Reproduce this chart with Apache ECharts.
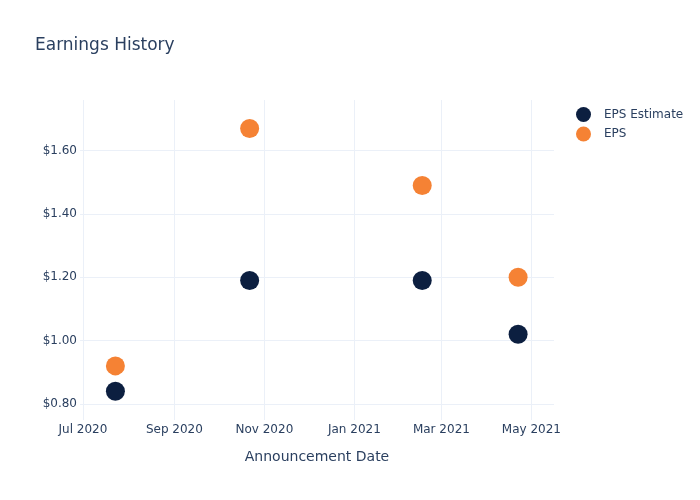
<!DOCTYPE html>
<html>
<head>
<meta charset="utf-8">
<script src="https://cdn.jsdelivr.net/npm/echarts@6/dist/echarts.min.js"></script>
<style>html,body{margin:0;padding:0;background:#fff}#c{width:700px;height:500px}</style>
</head>
<body>
<div id="c"></div>
<script>
// Data
var dates = ['2020-07-23', '2020-10-22', '2021-02-16', '2021-04-22'];
var epsEstimate = [0.84, 1.19, 1.19, 1.02];
var eps = [0.92, 1.67, 1.49, 1.20];
var seriesNames = ['EPS Estimate', 'EPS'];
var titleText = 'Earnings History';
var xAxisTitle = 'Announcement Date';

function toTime(s) {
  var p = s.split('-');
  return new Date(+p[0], +p[1] - 1, +p[2]).getTime();
}
var months = ['Jan','Feb','Mar','Apr','May','Jun','Jul','Aug','Sep','Oct','Nov','Dec'];
var font = 'DejaVu Sans, Open Sans, sans-serif';
var textColor = '#2a3f5f';
var gridColor = '#ebf0f8';

var chart = echarts.init(document.getElementById('c'), null, {renderer: 'canvas'});
chart.setOption({
  backgroundColor: '#fff',
  animation: false,
  textStyle: {fontFamily: font, color: textColor},
  title: {
    text: titleText,
    left: 35, top: 37, padding: 0,
    textStyle: {fontFamily: font, fontSize: 17, fontWeight: 'normal', color: textColor}
  },
  legend: {
    orient: 'vertical',
    left: 576, top: 107, padding: 0,
    itemWidth: 31, itemHeight: 15, itemGap: 4.5,
    icon: 'circle',
    textStyle: {fontFamily: font, fontSize: 12, color: textColor},
    data: seriesNames
  },
  grid: {left: 80, right: 146, top: 100, bottom: 80, containLabel: false},
  xAxis: {
    type: 'time',
    min: new Date(2020, 5, 29).getTime(),
    max: new Date(2021, 4, 16, 8).getTime(),
    splitNumber: 5,
    name: xAxisTitle,
    nameLocation: 'middle',
    nameGap: 30,
    nameTextStyle: {fontFamily: font, fontSize: 14, color: textColor},
    axisLine: {show: false},
    axisTick: {show: false},
    axisLabel: {
      margin: 4,
      fontFamily: font, fontSize: 12, color: textColor,
      showMinLabel: false, showMaxLabel: false,
      hideOverlap: false,
      formatter: function (v) {
        var d = new Date(v);
        if (d.getDate() !== 1 || d.getHours() !== 0) return '';
        return months[d.getMonth()] + ' ' + d.getFullYear();
      },
      rich: {}
    },
    splitLine: {show: true, showMinLine: false, showMaxLine: false, lineStyle: {color: gridColor, width: 1}}
  },
  yAxis: {
    type: 'value',
    min: 0.749,
    max: 1.760,
    splitNumber: 5,
    axisLine: {show: false},
    axisTick: {show: false},
    axisLabel: {
      margin: 3,
      fontFamily: font, fontSize: 12, color: textColor,
      showMinLabel: false, showMaxLabel: false,
      formatter: function (v) {
        var r = Math.round(v * 100) / 100;
        if (Math.abs(r * 5 - Math.round(r * 5)) > 1e-6) return '';
        return '$' + r.toFixed(2);
      }
    },
    splitLine: {show: true, showMinLine: false, showMaxLine: false, lineStyle: {color: gridColor, width: 1}}
  },
  series: [
    {
      name: seriesNames[0], type: 'scatter', symbol: 'circle', symbolSize: 19,
      itemStyle: {color: '#0c1f40', opacity: 1},
      data: dates.map(function (d, i) { return [toTime(d), epsEstimate[i]]; })
    },
    {
      name: seriesNames[1], type: 'scatter', symbol: 'circle', symbolSize: 19,
      itemStyle: {color: '#f58234', opacity: 1},
      data: dates.map(function (d, i) { return [toTime(d), eps[i]]; })
    }
  ]
});
</script>
</body>
</html>
